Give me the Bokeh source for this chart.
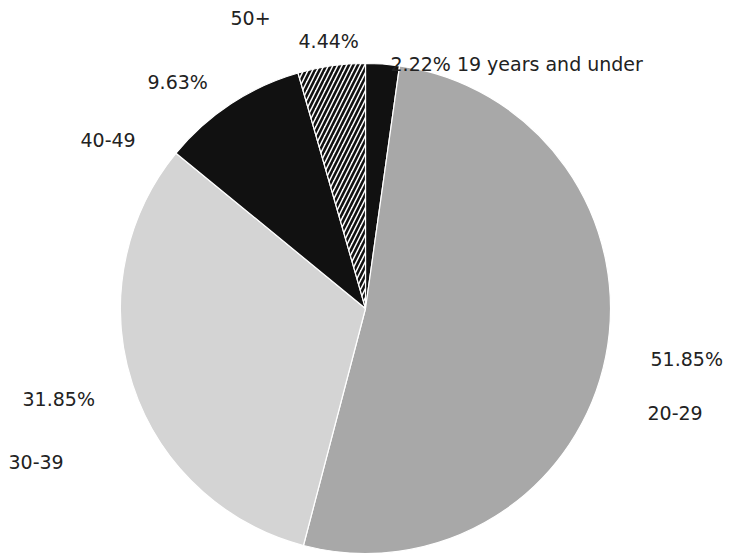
import math
from bokeh.plotting import figure
from bokeh.models import Range1d, ColumnDataSource
from bokeh.core.properties import value
from bokeh.embed import file_html
from bokeh.resources import INLINE

# Age groups and their shares (%)
categories = ["19 years and under", "20-29", "30-39", "40-49", "50+"]
shares = [2.22, 51.85, 31.85, 9.63, 4.44]
pct_labels = ["2.22%", "51.85%", "31.85%", "9.63%", "4.44%"]

# Slice styling
fills = ["#111111", "#a8a8a8", "#d4d4d4", "#111111", "#ffffff"]
hatches = [" ", " ", " ", " ", "right_diagonal_line"]

W, H = 731, 553
p = figure(width=W, height=H, output_backend="svg", toolbar_location=None,
           x_range=Range1d(0, W), y_range=Range1d(0, H), min_border=0)
p.axis.visible = False
p.grid.visible = False
p.outline_line_color = None
p.background_fill_color = "white"
p.border_fill_color = "white"

cx, cy, r = 365, H - 308, 245

# Slices start at 12 o'clock and run clockwise
total = sum(shares)
starts, ends = [], []
acc = 0.0
for s in shares:
    a0 = math.pi / 2 - 2 * math.pi * acc / total
    acc += s
    a1 = math.pi / 2 - 2 * math.pi * acc / total
    starts.append(a0)
    ends.append(a1)

src = ColumnDataSource(dict(x=[cx] * len(shares), y=[cy] * len(shares),
                            start=starts, end=ends, fill=fills, hatch=hatches,
                            cat=categories))
p.wedge(x="x", y="y", radius=r, start_angle="start", end_angle="end",
        direction="clock", fill_color="fill", hatch_pattern="hatch",
        hatch_color="#111111", hatch_scale=9, hatch_weight=2.6,
        line_color="white", line_width=1.2, source=src)

# Label text: value labels and category labels
label_text = [pct_labels[0] + " " + categories[0], pct_labels[1], categories[1],
              pct_labels[2], categories[2], pct_labels[3], categories[3],
              pct_labels[4], categories[4]]
label_x = [390, 650, 647, 22, 8, 147, 80, 298, 230]
label_y = [63, 358, 412, 398, 461, 81, 139, 40, 17]

p.text(x=label_x, y=[H - v for v in label_y], text=label_text,
       text_font=value("DejaVu Sans"), text_font_size="19px",
       text_color="#222222", text_baseline="middle", text_align="left")

open("out.html", "w").write(file_html(p, INLINE))
